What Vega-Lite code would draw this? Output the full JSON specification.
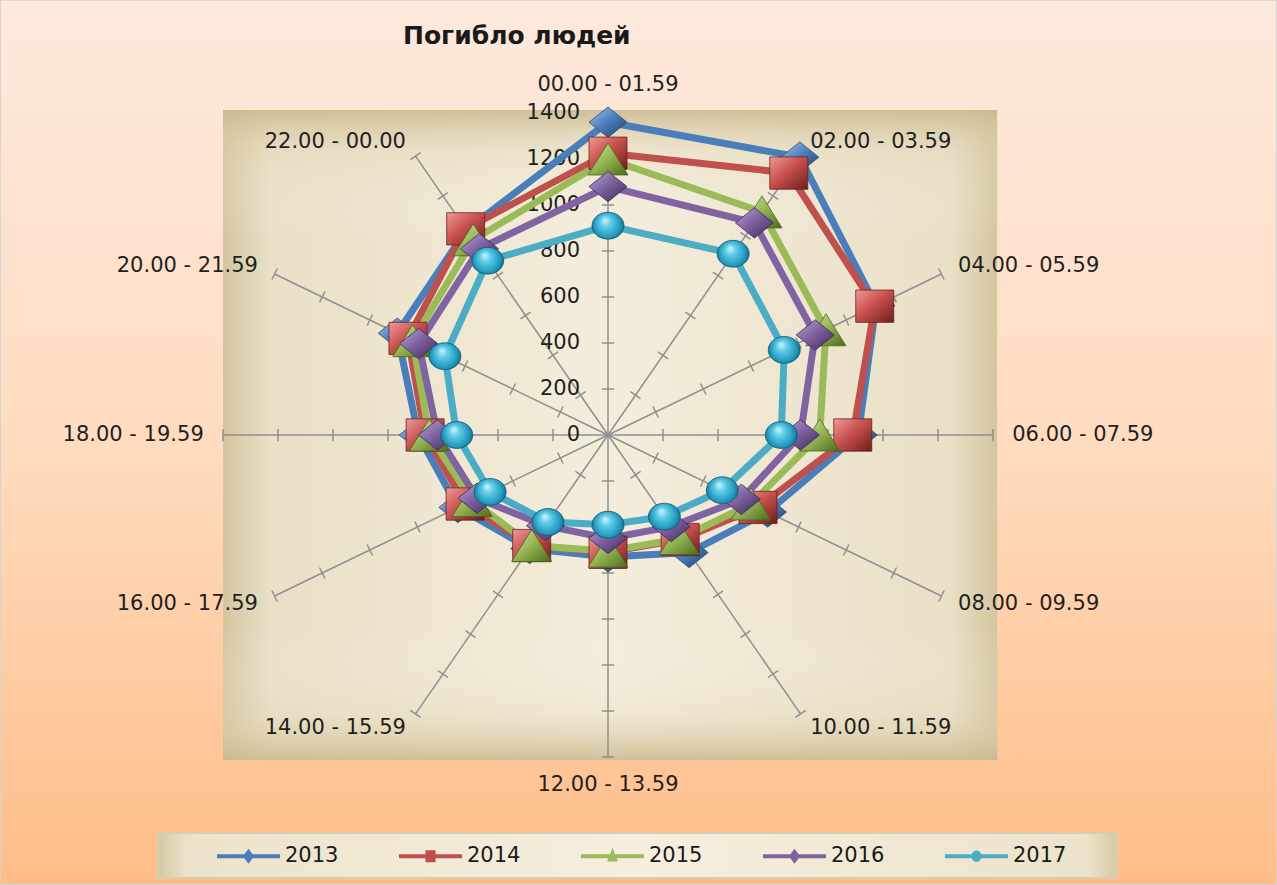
{
  "$schema": "https://vega.github.io/schema/vega-lite/v6.json",
  "width": 1277,
  "height": 885,
  "padding": 0,
  "autosize": {"type": "none"},
  "background": "#ffd9bd",
  "config": {"font": "DejaVu Sans", "view": {"stroke": null}},
  "title": {"text": "Погибло людей", "anchor": "start", "frame": "group", "orient": "top", "offset": 0, "dx": 403, "dy": 70, "baseline": "alphabetic", "font": "DejaVu Sans", "fontSize": 25, "fontWeight": "bold", "color": "#1a1a1a"},
  "datasets": {
    "deaths": [
      {"period": "00.00 - 01.59", "k": 0, "year": "2013", "deaths": 1360},
      {"period": "02.00 - 03.59", "k": 1, "year": "2013", "deaths": 1395},
      {"period": "04.00 - 05.59", "k": 2, "year": "2013", "deaths": 1125},
      {"period": "06.00 - 07.59", "k": 3, "year": "2013", "deaths": 910},
      {"period": "08.00 - 09.59", "k": 4, "year": "2013", "deaths": 670},
      {"period": "10.00 - 11.59", "k": 5, "year": "2013", "deaths": 590},
      {"period": "12.00 - 13.59", "k": 6, "year": "2013", "deaths": 530},
      {"period": "14.00 - 15.59", "k": 7, "year": "2013", "deaths": 570},
      {"period": "16.00 - 17.59", "k": 8, "year": "2013", "deaths": 630},
      {"period": "18.00 - 19.59", "k": 9, "year": "2013", "deaths": 690},
      {"period": "20.00 - 21.59", "k": 10, "year": "2013", "deaths": 885},
      {"period": "22.00 - 00.00", "k": 11, "year": "2013", "deaths": 1030},
      {"period": "00.00 - 01.59", "k": 0, "year": "2014", "deaths": 1225},
      {"period": "02.00 - 03.59", "k": 1, "year": "2014", "deaths": 1315},
      {"period": "04.00 - 05.59", "k": 2, "year": "2014", "deaths": 1120},
      {"period": "06.00 - 07.59", "k": 3, "year": "2014", "deaths": 890},
      {"period": "08.00 - 09.59", "k": 4, "year": "2014", "deaths": 630},
      {"period": "10.00 - 11.59", "k": 5, "year": "2014", "deaths": 525},
      {"period": "12.00 - 13.59", "k": 6, "year": "2014", "deaths": 510},
      {"period": "14.00 - 15.59", "k": 7, "year": "2014", "deaths": 555},
      {"period": "16.00 - 17.59", "k": 8, "year": "2014", "deaths": 600},
      {"period": "18.00 - 19.59", "k": 9, "year": "2014", "deaths": 665},
      {"period": "20.00 - 21.59", "k": 10, "year": "2014", "deaths": 840},
      {"period": "22.00 - 00.00", "k": 11, "year": "2014", "deaths": 1035},
      {"period": "00.00 - 01.59", "k": 0, "year": "2015", "deaths": 1200},
      {"period": "02.00 - 03.59", "k": 1, "year": "2015", "deaths": 1120},
      {"period": "04.00 - 05.59", "k": 2, "year": "2015", "deaths": 915},
      {"period": "06.00 - 07.59", "k": 3, "year": "2015", "deaths": 770},
      {"period": "08.00 - 09.59", "k": 4, "year": "2015", "deaths": 600},
      {"period": "10.00 - 11.59", "k": 5, "year": "2015", "deaths": 520},
      {"period": "12.00 - 13.59", "k": 6, "year": "2015", "deaths": 505},
      {"period": "14.00 - 15.59", "k": 7, "year": "2015", "deaths": 555},
      {"period": "16.00 - 17.59", "k": 8, "year": "2015", "deaths": 570},
      {"period": "18.00 - 19.59", "k": 9, "year": "2015", "deaths": 650},
      {"period": "20.00 - 21.59", "k": 10, "year": "2015", "deaths": 820},
      {"period": "22.00 - 00.00", "k": 11, "year": "2015", "deaths": 980},
      {"period": "00.00 - 01.59", "k": 0, "year": "2016", "deaths": 1080},
      {"period": "02.00 - 03.59", "k": 1, "year": "2016", "deaths": 1065},
      {"period": "04.00 - 05.59", "k": 2, "year": "2016", "deaths": 870},
      {"period": "06.00 - 07.59", "k": 3, "year": "2016", "deaths": 700},
      {"period": "08.00 - 09.59", "k": 4, "year": "2016", "deaths": 560},
      {"period": "10.00 - 11.59", "k": 5, "year": "2016", "deaths": 460},
      {"period": "12.00 - 13.59", "k": 6, "year": "2016", "deaths": 450},
      {"period": "14.00 - 15.59", "k": 7, "year": "2016", "deaths": 455},
      {"period": "16.00 - 17.59", "k": 8, "year": "2016", "deaths": 550},
      {"period": "18.00 - 19.59", "k": 9, "year": "2016", "deaths": 620},
      {"period": "20.00 - 21.59", "k": 10, "year": "2016", "deaths": 795},
      {"period": "22.00 - 00.00", "k": 11, "year": "2016", "deaths": 935},
      {"period": "00.00 - 01.59", "k": 0, "year": "2017", "deaths": 910},
      {"period": "02.00 - 03.59", "k": 1, "year": "2017", "deaths": 910},
      {"period": "04.00 - 05.59", "k": 2, "year": "2017", "deaths": 740},
      {"period": "06.00 - 07.59", "k": 3, "year": "2017", "deaths": 630},
      {"period": "08.00 - 09.59", "k": 4, "year": "2017", "deaths": 480},
      {"period": "10.00 - 11.59", "k": 5, "year": "2017", "deaths": 410},
      {"period": "12.00 - 13.59", "k": 6, "year": "2017", "deaths": 390},
      {"period": "14.00 - 15.59", "k": 7, "year": "2017", "deaths": 437},
      {"period": "16.00 - 17.59", "k": 8, "year": "2017", "deaths": 495},
      {"period": "18.00 - 19.59", "k": 9, "year": "2017", "deaths": 550},
      {"period": "20.00 - 21.59", "k": 10, "year": "2017", "deaths": 685},
      {"period": "22.00 - 00.00", "k": 11, "year": "2017", "deaths": 875}
    ],
    "spokes": [
      {"period": "00.00 - 01.59", "k": 0},
      {"period": "02.00 - 03.59", "k": 1},
      {"period": "04.00 - 05.59", "k": 2},
      {"period": "06.00 - 07.59", "k": 3},
      {"period": "08.00 - 09.59", "k": 4},
      {"period": "10.00 - 11.59", "k": 5},
      {"period": "12.00 - 13.59", "k": 6},
      {"period": "14.00 - 15.59", "k": 7},
      {"period": "16.00 - 17.59", "k": 8},
      {"period": "18.00 - 19.59", "k": 9},
      {"period": "20.00 - 21.59", "k": 10},
      {"period": "22.00 - 00.00", "k": 11}
    ],
    "levels": [
      {"level": 0}, {"level": 200}, {"level": 400}, {"level": 600},
      {"level": 800}, {"level": 1000}, {"level": 1200}, {"level": 1400}
    ]
  },
  "data": {"name": "deaths"},
  "transform": [
    {"calculate": "datum.k*PI/6", "as": "a"},
    {"calculate": "datum.deaths*sin(datum.a)", "as": "x"},
    {"calculate": "datum.deaths*cos(datum.a)", "as": "y"}
  ],
  "layer": [
    {
      "mark": {"type": "point", "filled": true, "opacity": 1, "size": 4},
      "encoding": {
        "x": {"field": "x", "type": "quantitative", "scale": {"domain": [-2210.9, 2432.7], "nice": false, "zero": false}, "axis": null},
        "y": {"field": "y", "type": "quantitative", "scale": {"domain": [-1956.5, 1891.3], "nice": false, "zero": false}, "axis": null},
        "color": {"field": "year", "type": "nominal", "scale": {"domain": ["2013", "2014", "2015", "2016", "2017"], "range": ["#4a7ebb", "#c0504d", "#9bbb59", "#8064a2", "#4bacc6"]},
          "legend": {"orient": "none", "legendX": 217, "legendY": 824.5, "direction": "horizontal", "title": null, "symbolSize": 3969, "symbolStrokeWidth": 0, "labelFont": "DejaVu Sans", "labelFontSize": 21, "labelColor": "#1a1a1a", "labelOffset": 5, "columnPadding": 60, "padding": 0}},
        "shape": {"field": "year", "type": "nominal", "scale": {"domain": ["2013", "2014", "2015", "2016", "2017"], "range": [
          "M-1,-0.065H1V0.065H-1Z M-0.18,0L0,-0.24L0.18,0L0,0.24Z",
          "M-1,-0.065H1V0.065H-1Z M-0.16,-0.19H0.16V0.19H-0.16Z",
          "M-1,-0.065H1V0.065H-1Z M0,-0.27L0.17,0.17H-0.17Z",
          "M-1,-0.065H1V0.065H-1Z M-0.18,0L0,-0.24L0.18,0L0,0.24Z",
          "M-1,-0.065H1V0.065H-1Z M-0.16,0A0.16,0.18 0 1,1 0.16,0A0.16,0.18 0 1,1 -0.16,0Z"
        ]},
          "legend": {"orient": "none", "legendX": 217, "legendY": 824.5, "direction": "horizontal", "title": null, "symbolSize": 3969, "symbolStrokeWidth": 0, "labelFont": "DejaVu Sans", "labelFontSize": 21, "labelColor": "#1a1a1a", "labelOffset": 5, "columnPadding": 60, "padding": 0}}
      }
    },
    {
      "data": {"values": [{}]},
      "mark": {"type": "rect", "fill": {"gradient": "linear", "x1": 0, "y1": 0, "x2": 0, "y2": 1, "stops": [{"offset": 0, "color": "#fde9dd"}, {"offset": 0.5, "color": "#ffdcc0"}, {"offset": 1, "color": "#ffbd88"}]}, "stroke": "#d4d4d4", "strokeWidth": 2},
      "encoding": {
        "x": {"datum": -2211, "type": "quantitative", "scale": {"domain": [-2210.9, 2432.7], "nice": false, "zero": false}, "axis": null},
        "x2": {"datum": 2433},
        "y": {"datum": -1957, "type": "quantitative", "scale": {"domain": [-1956.5, 1891.3], "nice": false, "zero": false}, "axis": null},
        "y2": {"datum": 1892}
      }
    },
    {
      "data": {"values": [{}]},
      "mark": {"type": "rect", "fill": {"gradient": "linear", "x1": 0, "y1": 0, "x2": 1, "y2": 0, "stops": [{"offset": 0, "color": "#d3c6a0"}, {"offset": 0.06, "color": "#e9e0c6"}, {"offset": 0.5, "color": "#f4eddc"}, {"offset": 0.94, "color": "#e9e0c6"}, {"offset": 1, "color": "#d3c6a0"}]}},
      "encoding": {
        "x": {"datum": -1400, "type": "quantitative", "scale": {"domain": [-2210.9, 2432.7], "nice": false, "zero": false}, "axis": null},
        "x2": {"datum": 1415},
        "y": {"datum": -1413, "type": "quantitative", "scale": {"domain": [-1956.5, 1891.3], "nice": false, "zero": false}, "axis": null},
        "y2": {"datum": 1413}
      }
    },
    {
      "data": {"values": [{}]},
      "mark": {"type": "rect", "fill": {"gradient": "linear", "x1": 0, "y1": 0, "x2": 0, "y2": 1, "stops": [{"offset": 0, "color": "rgba(200,184,140,0.85)"}, {"offset": 0.07, "color": "rgba(225,213,180,0.25)"}, {"offset": 0.2, "color": "rgba(255,255,255,0)"}, {"offset": 0.8, "color": "rgba(255,255,255,0)"}, {"offset": 0.93, "color": "rgba(225,213,180,0.25)"}, {"offset": 1, "color": "rgba(200,184,140,0.85)"}]}},
      "encoding": {
        "x": {"datum": -1400, "type": "quantitative", "scale": {"domain": [-2210.9, 2432.7], "nice": false, "zero": false}, "axis": null},
        "x2": {"datum": 1415},
        "y": {"datum": -1413, "type": "quantitative", "scale": {"domain": [-1956.5, 1891.3], "nice": false, "zero": false}, "axis": null},
        "y2": {"datum": 1413}
      }
    },
    {
      "data": {"values": [{}]},
      "mark": {"type": "rect", "fill": {"gradient": "linear", "x1": 0, "y1": 0, "x2": 1, "y2": 0, "stops": [{"offset": 0, "color": "#d4c8a3"}, {"offset": 0.03, "color": "#ebe3cb"}, {"offset": 0.5, "color": "#f6efe0"}, {"offset": 0.97, "color": "#ebe3cb"}, {"offset": 1, "color": "#d4c8a3"}]}, "stroke": "#d8cdb0", "strokeWidth": 2},
      "encoding": {
        "x": {"datum": -1636.4, "type": "quantitative", "scale": {"domain": [-2210.9, 2432.7], "nice": false, "zero": false}, "axis": null},
        "x2": {"datum": 1850.9},
        "y": {"datum": -1730.4, "type": "quantitative", "scale": {"domain": [-1956.5, 1891.3], "nice": false, "zero": false}, "axis": null},
        "y2": {"datum": -1926.1}
      }
    },
    {
      "data": {"name": "spokes"},
      "transform": [
        {"calculate": "datum.k*PI/6", "as": "a"},
        {"calculate": "0", "as": "o"},
        {"calculate": "1400*sin(datum.a)", "as": "ex"},
        {"calculate": "1400*cos(datum.a)", "as": "ey"}
      ],
      "mark": {"type": "rule", "stroke": "#8f8f8f", "strokeWidth": 1.5},
      "encoding": {
        "x": {"field": "o", "type": "quantitative", "scale": {"domain": [-2210.9, 2432.7], "nice": false, "zero": false}, "axis": null},
        "y": {"field": "o", "type": "quantitative", "scale": {"domain": [-1956.5, 1891.3], "nice": false, "zero": false}, "axis": null},
        "x2": {"field": "ex"},
        "y2": {"field": "ey"}
      }
    },
    {
      "data": {"name": "spokes"},
      "transform": [
        {"calculate": "datum.k*PI/6", "as": "a"},
        {"calculate": "[200,400,600,800,1000,1200,1400]", "as": "lv"},
        {"flatten": ["lv"]},
        {"calculate": "datum.lv*sin(datum.a)", "as": "tx"},
        {"calculate": "datum.lv*cos(datum.a)", "as": "ty"},
        {"calculate": "atan2(0.275*sin(datum.a), 0.23*cos(datum.a))*180/PI", "as": "tang"}
      ],
      "mark": {"type": "point", "shape": "stroke", "size": 150, "stroke": "#8f8f8f", "strokeWidth": 1.5, "opacity": 1},
      "encoding": {
        "x": {"field": "tx", "type": "quantitative", "scale": {"domain": [-2210.9, 2432.7], "nice": false, "zero": false}, "axis": null},
        "y": {"field": "ty", "type": "quantitative", "scale": {"domain": [-1956.5, 1891.3], "nice": false, "zero": false}, "axis": null},
        "angle": {"field": "tang", "type": "quantitative", "scale": null}
      }
    },
    {
      "data": {"name": "levels"},
      "transform": [{"calculate": "0", "as": "o"}],
      "mark": {"type": "text", "align": "right", "baseline": "middle", "dx": -28, "fontSize": 21, "font": "DejaVu Sans", "color": "#1f1f1f"},
      "encoding": {
        "x": {"field": "o", "type": "quantitative", "scale": {"domain": [-2210.9, 2432.7], "nice": false, "zero": false}, "axis": null},
        "y": {"field": "level", "type": "quantitative", "scale": {"domain": [-1956.5, 1891.3], "nice": false, "zero": false}, "axis": null},
        "text": {"field": "level", "type": "quantitative", "format": "d"}
      }
    },
    {
      "data": {"name": "spokes"},
      "transform": [
        {"calculate": "datum.k*PI/6", "as": "a"},
        {"calculate": "1470*sin(datum.a)", "as": "lx"},
        {"calculate": "1470*cos(datum.a)", "as": "ly"},
        {"filter": "datum.k >= 1 && datum.k <= 5"}
      ],
      "mark": {"type": "text", "align": "left", "baseline": "middle", "fontSize": 21, "font": "DejaVu Sans", "color": "#1f1f1f"},
      "encoding": {
        "x": {"field": "lx", "type": "quantitative", "scale": {"domain": [-2210.9, 2432.7], "nice": false, "zero": false}, "axis": null},
        "y": {"field": "ly", "type": "quantitative", "scale": {"domain": [-1956.5, 1891.3], "nice": false, "zero": false}, "axis": null},
        "text": {"field": "period", "type": "nominal"}
      }
    },
    {
      "data": {"name": "spokes"},
      "transform": [
        {"calculate": "datum.k*PI/6", "as": "a"},
        {"calculate": "1470*sin(datum.a)", "as": "lx"},
        {"calculate": "1470*cos(datum.a)", "as": "ly"},
        {"filter": "datum.k >= 7"}
      ],
      "mark": {"type": "text", "align": "right", "baseline": "middle", "fontSize": 21, "font": "DejaVu Sans", "color": "#1f1f1f"},
      "encoding": {
        "x": {"field": "lx", "type": "quantitative", "scale": {"domain": [-2210.9, 2432.7], "nice": false, "zero": false}, "axis": null},
        "y": {"field": "ly", "type": "quantitative", "scale": {"domain": [-1956.5, 1891.3], "nice": false, "zero": false}, "axis": null},
        "text": {"field": "period", "type": "nominal"}
      }
    },
    {
      "data": {"name": "spokes"},
      "transform": [
        {"calculate": "datum.k*PI/6", "as": "a"},
        {"calculate": "1470*sin(datum.a)", "as": "lx"},
        {"calculate": "1470*cos(datum.a)", "as": "ly"},
        {"filter": "datum.k == 0"}
      ],
      "mark": {"type": "text", "align": "center", "baseline": "middle", "dy": -12, "fontSize": 21, "font": "DejaVu Sans", "color": "#1f1f1f"},
      "encoding": {
        "x": {"field": "lx", "type": "quantitative", "scale": {"domain": [-2210.9, 2432.7], "nice": false, "zero": false}, "axis": null},
        "y": {"field": "ly", "type": "quantitative", "scale": {"domain": [-1956.5, 1891.3], "nice": false, "zero": false}, "axis": null},
        "text": {"field": "period", "type": "nominal"}
      }
    },
    {
      "data": {"name": "spokes"},
      "transform": [
        {"calculate": "datum.k*PI/6", "as": "a"},
        {"calculate": "1470*sin(datum.a)", "as": "lx"},
        {"calculate": "1470*cos(datum.a)", "as": "ly"},
        {"filter": "datum.k == 6"}
      ],
      "mark": {"type": "text", "align": "center", "baseline": "middle", "dy": 12, "fontSize": 21, "font": "DejaVu Sans", "color": "#1f1f1f"},
      "encoding": {
        "x": {"field": "lx", "type": "quantitative", "scale": {"domain": [-2210.9, 2432.7], "nice": false, "zero": false}, "axis": null},
        "y": {"field": "ly", "type": "quantitative", "scale": {"domain": [-1956.5, 1891.3], "nice": false, "zero": false}, "axis": null},
        "text": {"field": "period", "type": "nominal"}
      }
    },
    {
      "mark": {"type": "line", "interpolate": "linear-closed", "strokeWidth": 7},
      "encoding": {
        "x": {"field": "x", "type": "quantitative", "scale": {"domain": [-2210.9, 2432.7], "nice": false, "zero": false}, "axis": null},
        "y": {"field": "y", "type": "quantitative", "scale": {"domain": [-1956.5, 1891.3], "nice": false, "zero": false}, "axis": null},
        "color": {"field": "year", "type": "nominal", "scale": {"domain": ["2013", "2014", "2015", "2016", "2017"], "range": ["#4a7ebb", "#c0504d", "#9bbb59", "#8064a2", "#4bacc6"]}, "legend": null},
        "order": {"field": "k", "type": "quantitative"}
      }
    },
    {
      "transform": [{"filter": "datum.year == '2013'"}],
      "mark": {"type": "point", "filled": true, "shape": "M-1,0L0,-0.8L1,0L0,0.8Z", "size": 1444, "opacity": 1, "stroke": "#2b4c74", "strokeWidth": 0.8, "fill": {"gradient": "linear", "x1": 0, "y1": 0, "x2": 1, "y2": 1, "stops": [{"offset": 0, "color": "#a8c5ee"}, {"offset": 0.45, "color": "#4f83c2"}, {"offset": 1, "color": "#1d3c66"}]}},
      "encoding": {
        "x": {"field": "x", "type": "quantitative", "scale": {"domain": [-2210.9, 2432.7], "nice": false, "zero": false}, "axis": null},
        "y": {"field": "y", "type": "quantitative", "scale": {"domain": [-1956.5, 1891.3], "nice": false, "zero": false}, "axis": null}
      }
    },
    {
      "transform": [{"filter": "datum.year == '2014'"}],
      "mark": {"type": "point", "filled": true, "shape": "M-1,-0.85H1V0.85H-1Z", "size": 1444, "opacity": 1, "stroke": "#6b1f1d", "strokeWidth": 0.8, "fill": {"gradient": "linear", "x1": 0, "y1": 0, "x2": 1, "y2": 1, "stops": [{"offset": 0, "color": "#ee9a97"}, {"offset": 0.45, "color": "#c8524f"}, {"offset": 1, "color": "#6e1d1b"}]}},
      "encoding": {
        "x": {"field": "x", "type": "quantitative", "scale": {"domain": [-2210.9, 2432.7], "nice": false, "zero": false}, "axis": null},
        "y": {"field": "y", "type": "quantitative", "scale": {"domain": [-1956.5, 1891.3], "nice": false, "zero": false}, "axis": null}
      }
    },
    {
      "transform": [{"filter": "datum.year == '2015'"}],
      "mark": {"type": "point", "filled": true, "shape": "M0,-0.8L1,0.8L-1,0.8Z", "size": 1600, "opacity": 1, "stroke": "#4a6420", "strokeWidth": 0.8, "fill": {"gradient": "linear", "x1": 0, "y1": 0, "x2": 1, "y2": 1, "stops": [{"offset": 0, "color": "#cfe59b"}, {"offset": 0.45, "color": "#9bbb59"}, {"offset": 1, "color": "#4b6a1c"}]}},
      "encoding": {
        "x": {"field": "x", "type": "quantitative", "scale": {"domain": [-2210.9, 2432.7], "nice": false, "zero": false}, "axis": null},
        "y": {"field": "y", "type": "quantitative", "scale": {"domain": [-1956.5, 1891.3], "nice": false, "zero": false}, "axis": null}
      }
    },
    {
      "transform": [{"filter": "datum.year == '2016'"}],
      "mark": {"type": "point", "filled": true, "shape": "M-1,0L0,-0.8L1,0L0,0.8Z", "size": 1444, "opacity": 1, "stroke": "#3c2a58", "strokeWidth": 0.8, "fill": {"gradient": "linear", "x1": 0, "y1": 0, "x2": 1, "y2": 1, "stops": [{"offset": 0, "color": "#bca6da"}, {"offset": 0.45, "color": "#8064a2"}, {"offset": 1, "color": "#3b2857"}]}},
      "encoding": {
        "x": {"field": "x", "type": "quantitative", "scale": {"domain": [-2210.9, 2432.7], "nice": false, "zero": false}, "axis": null},
        "y": {"field": "y", "type": "quantitative", "scale": {"domain": [-1956.5, 1891.3], "nice": false, "zero": false}, "axis": null}
      }
    },
    {
      "transform": [{"filter": "datum.year == '2017'"}],
      "mark": {"type": "point", "filled": true, "shape": "M-1,0A1,0.84 0 1,1 1,0A1,0.84 0 1,1 -1,0Z", "size": 1024, "opacity": 1, "stroke": "#155a72", "strokeWidth": 0.8, "fill": {"gradient": "radial", "x1": 0.4, "y1": 0.32, "r1": 0, "x2": 0.5, "y2": 0.5, "r2": 0.55, "stops": [{"offset": 0, "color": "#d4f4fc"}, {"offset": 0.3, "color": "#62cde8"}, {"offset": 0.75, "color": "#2198bd"}, {"offset": 1, "color": "#0e5b78"}]}},
      "encoding": {
        "x": {"field": "x", "type": "quantitative", "scale": {"domain": [-2210.9, 2432.7], "nice": false, "zero": false}, "axis": null},
        "y": {"field": "y", "type": "quantitative", "scale": {"domain": [-1956.5, 1891.3], "nice": false, "zero": false}, "axis": null}
      }
    }
  ]
}
